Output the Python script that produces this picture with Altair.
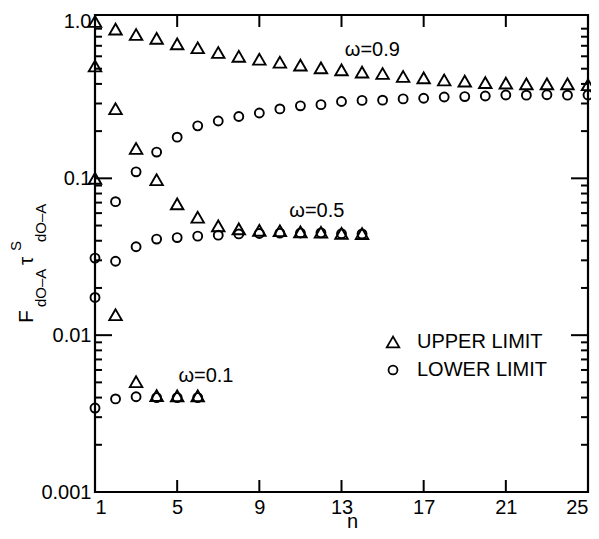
import altair as alt
import pandas as pd

FONT = "Liberation Sans"

# ---- data ----
n_09 = list(range(1, 26))
upper_09 = [1.0, 0.895, 0.826, 0.78, 0.72, 0.68, 0.634, 0.60, 0.575, 0.55, 0.527, 0.506, 0.492,
            0.476, 0.466, 0.446, 0.437, 0.424, 0.417, 0.408, 0.405, 0.40, 0.40, 0.40, 0.395]
lower_09 = [0.031, 0.071, 0.110, 0.147, 0.183, 0.216, 0.232, 0.248, 0.261, 0.277, 0.29, 0.295, 0.309,
            0.314, 0.315, 0.321, 0.324, 0.33, 0.332, 0.335, 0.34, 0.339, 0.341, 0.339, 0.34]

n_05 = list(range(1, 15))
upper_05 = [0.52, 0.278, 0.155, 0.098, 0.0688, 0.0565, 0.0498, 0.0476, 0.0466, 0.0463, 0.0456,
            0.0453, 0.0446, 0.0444]
lower_05 = [0.0174, 0.0296, 0.0366, 0.041, 0.0419, 0.0428, 0.0434, 0.0442, 0.0445, 0.0447, 0.0448,
            0.0449, 0.0443, 0.0442]

n_01 = list(range(1, 7))
upper_01 = [0.1, 0.0135, 0.00505, 0.00412, 0.0041, 0.0041]
lower_01 = [0.00343, 0.00392, 0.00405, 0.0040, 0.0040, 0.0040]

legend_labels = ["UPPER LIMIT", "LOWER LIMIT"]
x_tick_values = [1, 5, 9, 13, 17, 21, 25]
x_inner_ticks = [5, 9, 13, 17, 21]
y_tick_values = [0.001, 0.01, 0.1, 1.0]
y_tick_labels = ["0.001", "0.01", "0.1", "1.0"]
y_major_inner = [0.01, 0.1]
y_minor_inner = [0.002, 0.003, 0.004, 0.005, 0.006, 0.007, 0.008, 0.009,
                 0.02, 0.03, 0.04, 0.05, 0.06, 0.07, 0.08, 0.09,
                 0.2, 0.3, 0.4, 0.5, 0.6, 0.7, 0.8, 0.9]

omega_labels = ["\u03c9=0.9", "\u03c9=0.5", "\u03c9=0.1"]
omega_label_n = [14.5, 11.8, 6.4]
omega_label_value = [0.66, 0.0623, 0.00553]

ytitle_F = "F"
ytitle_tau = "\u03c4"
ytitle_sub = "dO\u2013A"
ytitle_sup = "S"
x_title = "n"

# ---- build table ----
rows = []
for om, ns, up, lo in [("0.9", n_09, upper_09, lower_09),
                       ("0.5", n_05, upper_05, lower_05),
                       ("0.1", n_01, upper_01, lower_01)]:
    for n, v in zip(ns, up):
        rows.append({"omega": om, "limit": legend_labels[0], "n": n, "value": v})
    for n, v in zip(ns, lo):
        rows.append({"omega": om, "limit": legend_labels[1], "n": n, "value": v})
df = pd.DataFrame(rows)

W, H = 493, 477

xscale = alt.Scale(domain=[1, 25], nice=False, zero=False)
yscale = alt.Scale(type="log", domain=[0.001, 1.1], nice=False)

label_expr = "'%s'" % y_tick_labels[-1]
for v, lab in reversed(list(zip(y_tick_values[:-1], y_tick_labels[:-1]))):
    label_expr = "datum.value < %g ? '%s' : (%s)" % (v * 3, lab, label_expr)

xaxis = alt.Axis(values=x_tick_values, tickSize=0, domain=False, grid=False, labelFontSize=20,
                 labelFont=FONT, labelColor="black", labelPadding=5, labelFlush=True,
                 title=x_title, titleFont=FONT, titleFontSize=20, titleFontWeight="normal",
                 titleColor="black", titleX=257, titleY=35, titleAlign="center",
                 titleBaseline="alphabetic", format="d")
yaxis = alt.Axis(values=y_tick_values, tickSize=0, domain=False, grid=False, labelFontSize=20,
                 labelFont=FONT, labelColor="black", labelPadding=4, labelExpr=label_expr,
                 labelFlush=False, title=None)

legend = alt.Legend(title=None, orient="none", legendX=288, legendY=317, labelFontSize=20,
                    labelFont=FONT, labelColor="black", rowPadding=8, labelOffset=14,
                    padding=0, symbolStrokeWidth=1.8, symbolStrokeColor="black")

points = alt.Chart(df).mark_point(filled=False, color="black", strokeWidth=1.9, opacity=1).encode(
    x=alt.X("n:Q", scale=xscale, axis=xaxis),
    y=alt.Y("value:Q", scale=yscale, axis=yaxis),
    shape=alt.Shape("limit:N", scale=alt.Scale(domain=legend_labels, range=["triangle-up", "circle"]),
                    legend=legend),
    size=alt.Size("limit:N", scale=alt.Scale(domain=legend_labels, range=[155, 80]), legend=legend),
)


def yticks(values, x0, x1):
    return alt.Chart(pd.DataFrame({"v": values})).mark_rule(color="black", strokeWidth=2).encode(
        y=alt.Y("v:Q", scale=yscale, axis=yaxis), x=alt.value(x0), x2=alt.value(x1))


def xticks(values, y0, y1):
    return alt.Chart(pd.DataFrame({"v": values})).mark_rule(color="black", strokeWidth=2).encode(
        x=alt.X("v:Q", scale=xscale, axis=xaxis), y=alt.value(y0), y2=alt.value(y1))


ticks = [
    yticks(y_major_inner, 0, 17), yticks(y_minor_inner, 0, 7),
    yticks(y_major_inner, W - 17, W), yticks(y_minor_inner, W - 7, W),
    xticks(x_inner_ticks, 0, 12), xticks(x_inner_ticks, H - 12, H),
]

omega_df = pd.DataFrame({"n": omega_label_n, "value": omega_label_value, "label": omega_labels})
omega_text = alt.Chart(omega_df).mark_text(font=FONT, fontSize=20, color="black", align="center",
                                           baseline="middle").encode(
    x=alt.X("n:Q", scale=xscale, axis=xaxis),
    y=alt.Y("value:Q", scale=yscale, axis=yaxis),
    text="label:N")


def title_part(txt, size, px, py):
    return alt.Chart(pd.DataFrame({"t": [txt]})).mark_text(
        font=FONT, fontSize=size, color="black", angle=270, align="left", baseline="alphabetic"
    ).encode(text="t:N", x=alt.value(px), y=alt.value(py))


ytitle = [
    title_part(ytitle_F, 21, -62, 308),
    title_part(ytitle_sub, 15, -49, 292),
    title_part(ytitle_tau, 21, -62, 250),
    title_part(ytitle_sup, 15, -74, 236),
    title_part(ytitle_sub, 15, -49, 227),
]

chart = alt.layer(points, *ticks, omega_text, *ytitle).properties(
    width=W, height=H,
    padding={"left": 87, "top": 7, "right": 3, "bottom": 39},
    autosize=alt.AutoSizeParams(type="none"),
    background="white",
).configure_view(stroke="black", strokeWidth=2.2)

chart.save("out.html", embed_options={"renderer": "svg", "actions": False})
